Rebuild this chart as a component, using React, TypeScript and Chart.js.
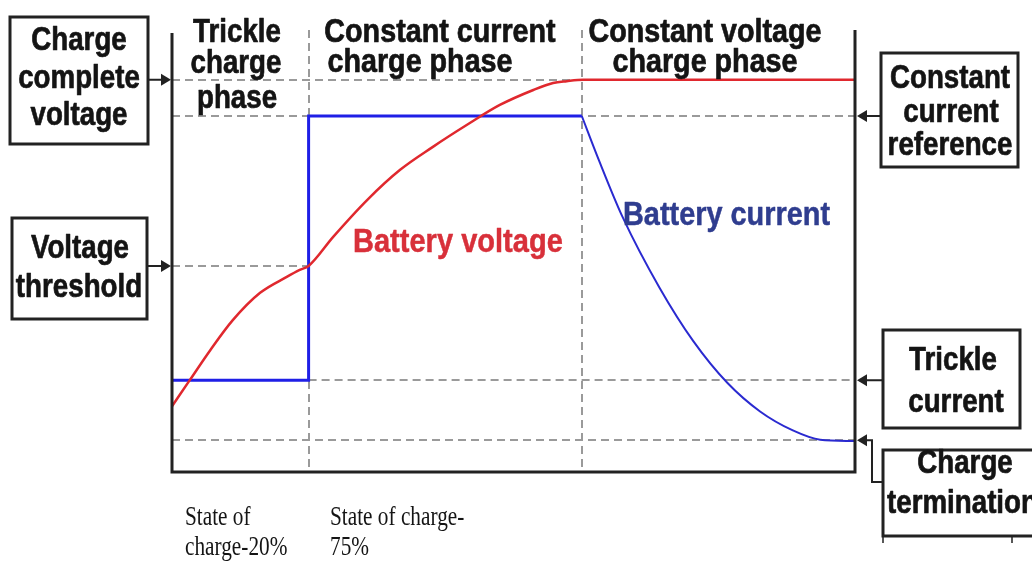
import React, { useEffect, useRef } from "react";
import { Chart, registerables } from "chart.js";

Chart.register(...registerables);

// Phase boundaries (x, % of charge time)
const phaseX = [20, 60];
// Reference levels (y units) and horizontal extent of their dashed guides
const refLevels = [88.7, 80.5, 46.5, 20.6, 7.0];
const refFrom = [0, 0, 0, 20, 0];
const refTo = [100, 100, 20, 100, 100];

// Battery voltage curve
const voltX = [0, 2.6, 5.6, 8.9, 12.9, 16.8, 18.7, 20, 23.6, 28.6, 33.4, 38.2, 43.2, 48.0, 52.9, 55.8, 57.8, 60.2, 100];
const voltY = [14.7, 20.6, 27.4, 34.2, 40.4, 44.0, 45.6, 46.5, 53.1, 61.5, 68.3, 73.5, 78.5, 83.0, 86.4, 88.0, 88.4, 88.7, 88.7];

// Battery current: step (trickle -> constant current), then decay
const stepX = [0, 20, 20, 60];
const stepY = [20.6, 20.6, 80.5, 80.5];
const decayX = [60, 62.5, 66, 71.4, 76.3, 81.3, 86.1, 90.9, 94.9, 100];
const decayY = [80.5, 70.5, 57.5, 41.5, 29.5, 20.0, 13.5, 9.2, 7.1, 6.8];

const toPts = (xs: number[], ys: number[]) => xs.map((x, i) => ({ x, y: ys[i] }));

const SANS = "Liberation Sans, Arial, sans-serif";
const SERIF = "Liberation Serif, Times New Roman, serif";

function txt(ctx: CanvasRenderingContext2D, s: string, x: number, y: number, font: string, color: string, sx: number, align: CanvasTextAlign = "center", stroke = 0) {
  ctx.save();
  ctx.font = font;
  ctx.fillStyle = color;
  ctx.strokeStyle = color;
  ctx.textBaseline = "alphabetic";
  ctx.textAlign = align;
  ctx.translate(x, y);
  ctx.scale(sx, 1);
  ctx.fillText(s, 0, 0);
  if (stroke > 0) {
    ctx.lineWidth = stroke;
    ctx.lineJoin = "round";
    ctx.strokeText(s, 0, 0);
  }
  ctx.restore();
}

function arrowHead(ctx: CanvasRenderingContext2D, tipX: number, y: number, dir: number) {
  // dir = +1 points right, -1 points left
  ctx.beginPath();
  ctx.moveTo(tipX, y);
  ctx.lineTo(tipX - dir * 10, y - 6);
  ctx.lineTo(tipX - dir * 10, y + 6);
  ctx.closePath();
  ctx.fill();
}

const guidesPlugin = {
  id: "guides",
  beforeDatasetsDraw(chart: any) {
    const { ctx, chartArea, scales } = chart;
    const xs = scales.x, ys = scales.y;
    ctx.save();
    ctx.strokeStyle = "#9a9a9a";
    ctx.lineWidth = 2;
    ctx.setLineDash([8, 5]);
    refLevels.forEach((lv, i) => {
      const py = Math.round(ys.getPixelForValue(lv));
      ctx.beginPath();
      ctx.moveTo(xs.getPixelForValue(refFrom[i]), py);
      ctx.lineTo(xs.getPixelForValue(refTo[i]), py);
      ctx.stroke();
    });
    phaseX.forEach((px) => {
      const x = Math.round(xs.getPixelForValue(px));
      ctx.beginPath();
      ctx.moveTo(x, chartArea.top);
      ctx.lineTo(x, chartArea.bottom);
      ctx.stroke();
    });
    ctx.restore();
  },
  afterDraw(chart: any) {
    const { ctx, chartArea, scales } = chart;
    const ys = scales.y;
    const L = chartArea.left, R = chartArea.right, B = chartArea.bottom;
    ctx.save();
    // frame
    ctx.strokeStyle = "#222";
    ctx.lineWidth = 3;
    ctx.setLineDash([]);
    ctx.beginPath();
    ctx.moveTo(L, 33);
    ctx.lineTo(L, B + 1);
    ctx.lineTo(R, B + 1);
    ctx.lineTo(R, 30);
    ctx.stroke();

    // boxes
    ctx.lineWidth = 3;
    ctx.strokeRect(10, 17, 138, 127);
    ctx.strokeRect(12, 218, 135, 101);
    ctx.strokeRect(881, 53, 137, 114);
    ctx.strokeRect(883, 330, 137, 98);
    ctx.beginPath();
    ctx.moveTo(1040, 450);
    ctx.lineTo(883, 450);
    ctx.lineTo(883, 536);
    ctx.lineTo(1040, 536);
    ctx.stroke();
    ctx.lineWidth = 1.5;
    ctx.beginPath();
    ctx.moveTo(883, 536); ctx.lineTo(883, 543);
    ctx.moveTo(1012, 536); ctx.lineTo(1012, 543);
    ctx.stroke();

    // arrows
    ctx.fillStyle = "#222";
    ctx.lineWidth = 2;
    const yCV = ys.getPixelForValue(refLevels[0]);
    const yCC = ys.getPixelForValue(refLevels[1]);
    const yVT = ys.getPixelForValue(refLevels[2]);
    const yTC = ys.getPixelForValue(refLevels[3]);
    const yTerm = ys.getPixelForValue(refLevels[4]);
    ctx.beginPath();
    ctx.moveTo(148, yCV); ctx.lineTo(L - 4, yCV);
    ctx.moveTo(147, yVT); ctx.lineTo(L - 4, yVT);
    ctx.moveTo(881, yCC); ctx.lineTo(R + 4, yCC);
    ctx.moveTo(883, yTC); ctx.lineTo(R + 4, yTC);
    ctx.moveTo(R + 4, yTerm); ctx.lineTo(872, yTerm); ctx.lineTo(872, 482); ctx.lineTo(883, 482);
    ctx.stroke();
    arrowHead(ctx, L - 1, yCV, 1);
    arrowHead(ctx, L - 1, yVT, 1);
    arrowHead(ctx, R + 2, yCC, -1);
    arrowHead(ctx, R + 2, yTC, -1);
    arrowHead(ctx, R + 2, yTerm, -1);

    const bold = `bold 33px ${SANS}`;
    const k = "#141414";
    const sx = 0.84;
    const st = 0.7;
    // phase titles
    txt(ctx, "Trickle", 237, 42, bold, k, sx, "center", st);
    txt(ctx, "charge", 236, 73, bold, k, sx, "center", st);
    txt(ctx, "phase", 237, 108, bold, k, sx, "center", st);
    txt(ctx, "Constant current", 440, 42, bold, k, 0.87, "center", st);
    txt(ctx, "charge phase", 420, 72, bold, k, 0.87, "center", st);
    txt(ctx, "Constant voltage", 705, 42, bold, k, 0.87, "center", st);
    txt(ctx, "charge phase", 705, 72, bold, k, 0.87, "center", st);
    // left boxes
    txt(ctx, "Charge", 79, 50, bold, k, sx, "center", st);
    txt(ctx, "complete", 79, 88, bold, k, sx, "center", st);
    txt(ctx, "voltage", 79, 125, bold, k, sx, "center", st);
    txt(ctx, "Voltage", 80, 258, bold, k, sx, "center", st);
    txt(ctx, "threshold", 79, 297, bold, k, sx, "center", st);
    // right boxes
    txt(ctx, "Constant", 950, 88, bold, k, sx, "center", st);
    txt(ctx, "current", 951, 122, bold, k, sx, "center", st);
    txt(ctx, "reference", 950, 155, bold, k, sx, "center", st);
    txt(ctx, "Trickle", 953, 370, bold, k, sx, "center", st);
    txt(ctx, "current", 956, 412, bold, k, sx, "center", st);
    txt(ctx, "Charge", 965, 473, bold, k, sx, "center", st);
    txt(ctx, "termination", 887, 513, bold, k, sx, "left", st);
    // curve labels
    txt(ctx, "Battery voltage", 353, 252, bold, "#d8303a", 0.88, "left", 0.5);
    txt(ctx, "Battery current", 623, 225, bold, "#2f3d8f", 0.875, "left", 0.5);
    // bottom serif labels
    const serif = `28px ${SERIF}`;
    txt(ctx, "State of", 185, 525, serif, k, 0.76, "left");
    txt(ctx, "charge-20%", 185, 555, serif, k, 0.76, "left");
    txt(ctx, "State of charge-", 330, 525, serif, k, 0.76, "left");
    txt(ctx, "75%", 330, 555, serif, k, 0.76, "left");
    ctx.restore();
  },
};

export default function App() {
  const ref = useRef<HTMLCanvasElement | null>(null);
  useEffect(() => {
    document.body.style.margin = "0";
    if (!ref.current) return;
    const chart = new Chart(ref.current, {
      type: "line",
      data: {
        datasets: [
          {
            label: "Battery voltage",
            data: toPts(voltX, voltY),
            borderColor: "#e0282e",
            borderWidth: 2.5,
            cubicInterpolationMode: "monotone",
            pointRadius: 0,
            fill: false,
          },
          {
            label: "Battery current",
            data: toPts(stepX, stepY),
            borderColor: "#1f1fe6",
            borderWidth: 3,
            tension: 0,
            pointRadius: 0,
            fill: false,
          },
          {
            label: "Battery current decay",
            data: toPts(decayX, decayY),
            borderColor: "#2a2ad0",
            borderWidth: 2,
            cubicInterpolationMode: "monotone",
            pointRadius: 0,
            fill: false,
          },
        ],
      },
      options: {
        animation: false,
        responsive: false,
        devicePixelRatio: 1,
        layout: { padding: { left: 172, right: 177, top: 30, bottom: 94 } },
        scales: {
          x: { type: "linear", min: 0, max: 100, display: false },
          y: { type: "linear", min: 0, max: 100, display: false },
        },
        plugins: { legend: { display: false }, tooltip: { enabled: false } },
        elements: { point: { radius: 0 } },
      },
      plugins: [guidesPlugin],
    } as any);
    return () => chart.destroy();
  }, []);
  return (
    <div style={{ width: 1032, height: 565, background: "#fff" }}>
      <canvas ref={ref} width={1032} height={565} />
    </div>
  );
}
